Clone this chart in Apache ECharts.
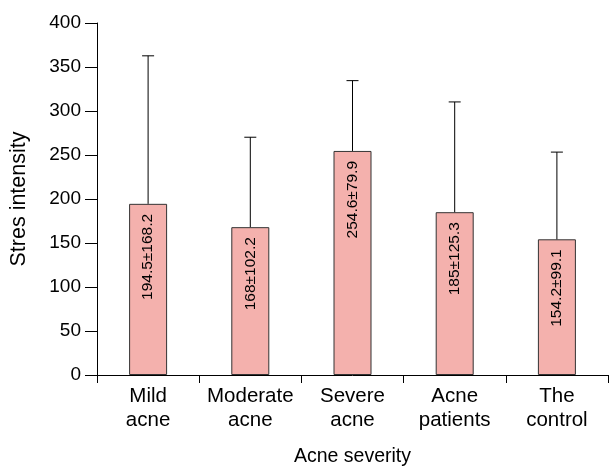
<!DOCTYPE html>
<html>
<head>
<meta charset="utf-8">
<script src="https://cdn.jsdelivr.net/npm/echarts@6/dist/echarts.min.js"></script>
<style>
html,body{margin:0;padding:0;background:#fff;}
#chart{width:609px;height:466px;}
</style>
</head>
<body>
<div id="chart"></div>
<script>
const categories = ['Mild\nacne', 'Moderate\nacne', 'Severe\nacne', 'Acne\npatients', 'The\ncontrol'];
const means = [194.5, 168, 254.6, 185, 154.2];
const sds = [168.2, 102.2, 79.9, 125.3, 99.1];
const xTitle = 'Acne severity';
const yTitle = 'Stres intensity';

const FONT = '"Liberation Sans", Arial, Helvetica, sans-serif';
const chart = echarts.init(document.getElementById('chart'));

const errData = means.map((m, i) => [i, m, m + sds[i]]);

chart.setOption({
  animation: false,
  backgroundColor: '#fff',
  grid: { left: 97, right: 1, top: 23, bottom: 91, containLabel: false, outerBoundsMode: 'none' },
  xAxis: {
    type: 'category',
    data: categories,
    boundaryGap: true,
    name: xTitle,
    nameLocation: 'middle',
    nameGap: 72,
    nameTextStyle: { fontFamily: FONT, fontSize: 19.5, color: '#000' },
    axisLine: { lineStyle: { color: '#000', width: 1 } },
    axisTick: { show: true, alignWithLabel: false, length: 8, lineStyle: { color: '#000' } },
    axisLabel: { fontFamily: FONT, fontSize: 20.5, color: '#000', lineHeight: 24, margin: 9, interval: 0 },
    splitLine: { show: false }
  },
  yAxis: {
    type: 'value',
    min: 0,
    max: 400,
    interval: 50,
    name: yTitle,
    nameLocation: 'middle',
    nameGap: 67,
    nameRotate: 90,
    nameTextStyle: { fontFamily: FONT, fontSize: 21.5, color: '#000' },
    axisLine: { show: true, lineStyle: { color: '#000', width: 1 } },
    axisTick: { show: true, length: 12, lineStyle: { color: '#000' } },
    axisLabel: { fontFamily: FONT, fontSize: 19, color: '#000', margin: 16 },
    splitLine: { show: false }
  },
  series: [
    {
      type: 'bar',
      data: means,
      barWidth: 38,
      itemStyle: { color: '#f4b1ad', borderColor: '#333', borderWidth: 1 },
      label: {
        show: true,
        position: 'insideTop',
        distance: 10,
        rotate: 90,
        align: 'right',
        verticalAlign: 'middle',
        fontFamily: FONT,
        fontSize: 15.5,
        color: '#000',
        formatter: p => means[p.dataIndex] + '±' + sds[p.dataIndex]
      },
      z: 2
    },
    {
      type: 'custom',
      data: errData,
      z: 3,
      renderItem: function (params, api) {
        const x = api.value(0);
        const lo = api.coord([x, api.value(1)]);
        const hi = api.coord([x, api.value(2)]);
        const cw = 6;
        const style = { stroke: '#000', lineWidth: 1 };
        return {
          type: 'group',
          children: [
            { type: 'line', shape: { x1: lo[0], y1: lo[1], x2: hi[0], y2: hi[1] }, style: style },
            { type: 'line', shape: { x1: hi[0] - cw, y1: hi[1], x2: hi[0] + cw, y2: hi[1] }, style: style }
          ]
        };
      }
    }
  ]
});
</script>
</body>
</html>
